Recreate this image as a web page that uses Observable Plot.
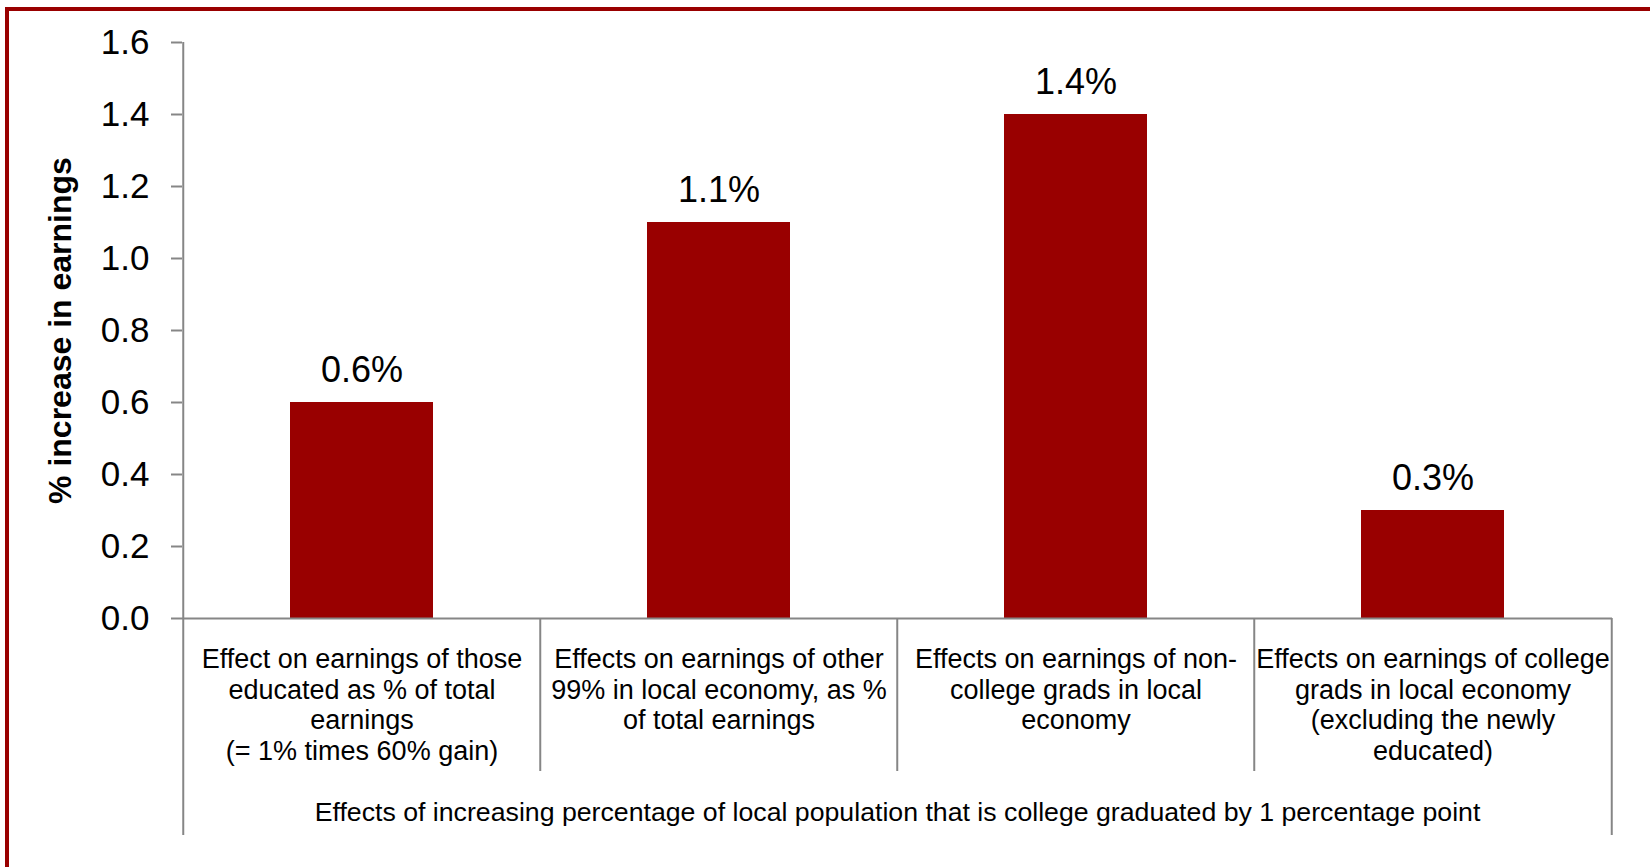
<!DOCTYPE html>
<html>
<head>
<meta charset="utf-8">
<script src="https://cdn.jsdelivr.net/npm/d3@7"></script>
<script src="https://cdn.jsdelivr.net/npm/@observablehq/plot@0.6"></script>
<style>
  html, body { margin: 0; padding: 0; background: #fff; overflow: hidden; width: 1650px; height: 867px; }
  #frame { position: absolute; left: 5px; top: 7px; width: 1700px; height: 900px; border: 4px solid #990000; box-sizing: border-box; }
  #chart { position: absolute; left: 0; top: 0; }
</style>
</head>
<body>
<div id="frame"></div>
<div id="chart"></div>
<script>
// ---- data ----
const categories = [
  "Effect on earnings of those\neducated as % of total\nearnings\n(= 1% times 60% gain)",
  "Effects on earnings of other\n99% in local economy, as %\nof total earnings",
  "Effects on earnings of non-\ncollege grads in local\neconomy",
  "Effects on earnings of college\ngrads in local economy\n(excluding the newly\neducated)"
];
const values = [0.6, 1.1, 1.4, 0.3];
const valueLabels = ["0.6%", "1.1%", "1.4%", "0.3%"];
const yTicks = [0, 0.2, 0.4, 0.6, 0.8, 1.0, 1.2, 1.4, 1.6];
const yLabel = "% increase in earnings";
const groupLabel = "Effects of increasing percentage of local population that is college graduated by 1 percentage point";

// ---- layout ----
const W = 1650, H = 867;
const mL = 182, mR = 38, mT = 42, mB = 249;
const yMax = 1.6;
const pxPerUnit = (H - mB - mT) / yMax;
const step = (W - mL - mR) / categories.length;
const dividerDepth = -153 / pxPerUnit;
const outerDepth = -217 / pxPerUnit;
const grey = "#868686";
const font = "Arial, 'Liberation Sans', sans-serif";

const rows = categories.map((c, i) => ({cat: c, value: values[i], label: valueLabels[i]}));

const chart = Plot.plot({
  width: W,
  height: H,
  marginLeft: mL,
  marginRight: mR,
  marginTop: mT,
  marginBottom: mB,
  style: {fontFamily: font, background: "transparent", color: "black", overflow: "visible"},
  x: {type: "band", domain: categories, paddingInner: 0.6, paddingOuter: 0.3, align: 0.5, axis: null},
  y: {domain: [0, yMax], axis: null},
  marks: [
    Plot.barY(rows, {x: "cat", y: "value", fill: "#990000"}),
    Plot.axisY({ticks: yTicks, tickFormat: d3.format(".1f"), tickSize: 11, tickPadding: 22,
      fontSize: 35, stroke: grey, strokeWidth: 2, fill: "black", label: null}),
    Plot.ruleY([0], {stroke: grey, strokeWidth: 2}),
    // category boundaries (multi-level axis grid)
    Plot.ruleX(rows, {x: "cat", dx: -step / 2,
      y1: (d, i) => i === 0 ? yMax : 0,
      y2: (d, i) => i === 0 ? outerDepth : dividerDepth,
      stroke: grey, strokeWidth: 2}),
    Plot.ruleX(rows.slice(-1), {x: "cat", dx: step / 2, y1: 0, y2: outerDepth, stroke: grey, strokeWidth: 2}),
    // value labels
    Plot.text(rows, {x: "cat", y: "value", text: "label", dy: -32, lineAnchor: "middle",
      fontSize: 36, fill: "black"}),
    // category labels
    Plot.text(rows, {x: "cat", y: 0, text: "cat", lineAnchor: "top", dy: 28, fontSize: 27,
      lineHeight: 1.13, fill: "black"}),
    // group label
    Plot.text([groupLabel], {frameAnchor: "bottom", dy: 194, lineAnchor: "middle", fontSize: 26.7, fill: "black"}),
    // y-axis title
    Plot.text([yLabel], {frameAnchor: "left", dx: -122, rotate: -90, lineAnchor: "middle", textAnchor: "middle",
      fontSize: 32, fontWeight: "bold", fill: "black"})
  ]
});
document.getElementById("chart").appendChild(chart);
</script>
</body>
</html>
